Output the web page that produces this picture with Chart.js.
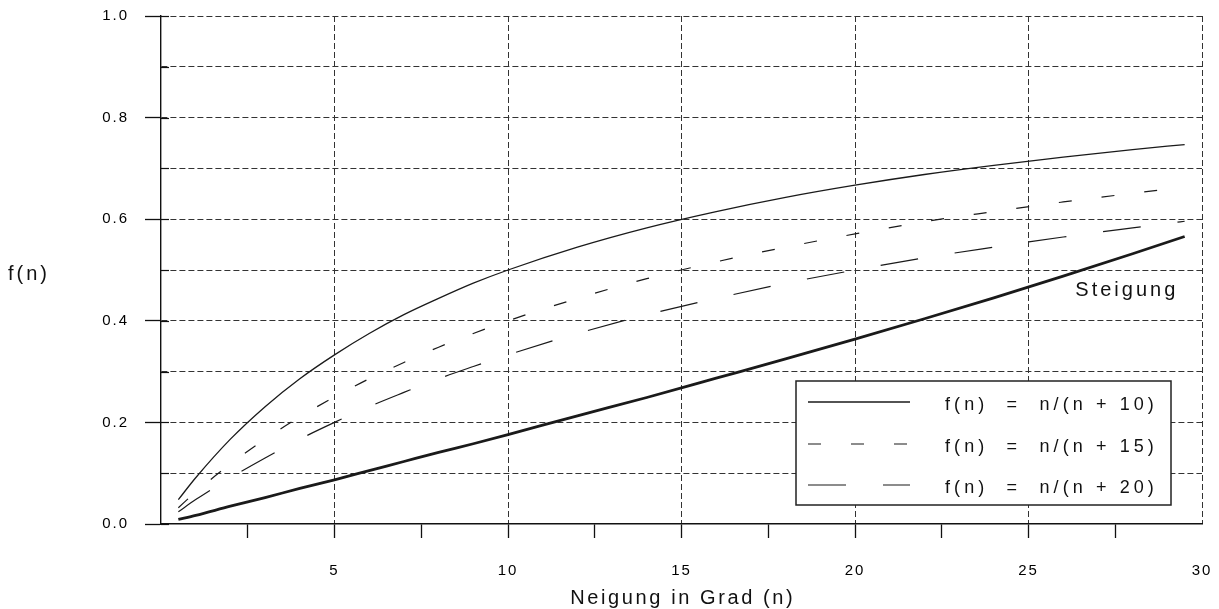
<!DOCTYPE html>
<html><head><meta charset="utf-8">
<script src="https://cdn.jsdelivr.net/npm/chart.js@4"></script>
<style>html,body{margin:0;padding:0;background:#fff}canvas{display:block}</style>
</head><body>
<canvas id="c" width="1219" height="609"></canvas>
<script>
// ---- data ----
const N = [0.5,1,2,3,4,5,6,7,8,9,10,12,14,16,18,20,22,24,26,28,29.5];
const F10 = [0.048,0.091,0.167,0.231,0.286,0.333,0.375,0.412,0.444,0.474,0.500,0.545,0.583,0.615,0.643,0.667,0.688,0.706,0.722,0.737,0.747];
const F15 = [0.032,0.063,0.118,0.167,0.211,0.250,0.286,0.318,0.348,0.375,0.400,0.444,0.483,0.516,0.545,0.571,0.595,0.615,0.634,0.651,0.663];
const F20 = [0.024,0.048,0.091,0.130,0.167,0.200,0.231,0.259,0.286,0.310,0.333,0.375,0.412,0.444,0.474,0.500,0.524,0.545,0.565,0.583,0.596];
const STEIGUNG = [0.009,0.017,0.035,0.052,0.070,0.087,0.105,0.123,0.141,0.158,0.176,0.213,0.249,0.287,0.325,0.364,0.404,0.445,0.488,0.532,0.566];
const SERIES_LABELS = ['f(n)  =  n/(n + 10)','f(n)  =  n/(n + 15)','f(n)  =  n/(n + 20)','Steigung'];
const X_LABELED = [5,10,15,20,25,30];
const Y_LABELED = [0,2,4,6,8,10]; // tenths
const X_TITLE = 'Neigung in Grad (n)';
const Y_TITLE = 'f(n)';
const NOTE = 'Steigung';

const FONT = 'Liberation Sans, Arial, Helvetica, sans-serif';
const pts = arr => N.map((n,i)=>({x:n,y:arr[i]}));

function spacedText(ctx, text, x, y, spacing, align){
  let w = 0; const ws = [];
  for (const ch of text){ const cw = ctx.measureText(ch).width; ws.push(cw); w += cw; }
  w += spacing*(text.length-1);
  let cx = align==='center' ? x - w/2 : (align==='right' ? x - w : x);
  ctx.textAlign='left';
  let i=0;
  for (const ch of text){ ctx.fillText(ch, cx, y); cx += ws[i++] + spacing; }
}

const decor = {
  id:'decor',
  beforeDraw(chart){ chart.ctx.letterSpacing = '2px'; },
  beforeDatasetsDraw(chart){
    const ctx = chart.ctx, ys = chart.scales.y, ca = chart.chartArea;
    ctx.save(); ctx.letterSpacing='0px';
    ctx.strokeStyle='#111'; ctx.lineWidth=1.2; ctx.setLineDash([]);
    ys.ticks.forEach(t=>{
      const py = Math.round(ys.getPixelForValue(t.value))+0.5;
      ctx.beginPath(); ctx.moveTo(ca.left, py); ctx.lineTo(ca.left+8, py); ctx.stroke();
    });
    ctx.restore();
  },
  afterDraw(chart){
    const ctx = chart.ctx, xs = chart.scales.x, ys = chart.scales.y, ca = chart.chartArea;
    ctx.save(); ctx.letterSpacing='0px';
    ctx.fillStyle='#111'; ctx.textBaseline='alphabetic';
    ctx.font = '20px '+FONT;
    spacedText(ctx, Y_TITLE, 8, 280, 3, 'left');
    spacedText(ctx, X_TITLE, (ca.left+ca.right)/2, 604, 2.6, 'center');
    spacedText(ctx, NOTE, xs.getPixelForValue(26.35), ys.getPixelForValue(0.448), 3, 'left');
    // legend box
    const bx = 796, by = 381, bw = 375, bh = 124;
    ctx.fillStyle='#fff'; ctx.fillRect(bx,by,bw,bh);
    ctx.strokeStyle='#222'; ctx.lineWidth=1.5; ctx.setLineDash([]);
    ctx.strokeRect(bx,by,bw,bh);
    const baselines = [410, 452, 493];
    chart.data.datasets.slice(0,3).forEach((ds,i)=>{
      const ly = baselines[i]-8;
      ctx.save();
      ctx.strokeStyle = ds.borderColor; ctx.lineWidth = ds.borderWidth;
      ctx.setLineDash(ds.borderDash||[]);
      ctx.beginPath(); ctx.moveTo(808, ly); ctx.lineTo(910, ly); ctx.stroke();
      ctx.restore();
      ctx.fillStyle='#111'; ctx.font='18px '+FONT;
      spacedText(ctx, ds.label, 945, baselines[i], 4.1, 'left');
    });
    ctx.restore();
  }
};

new Chart(document.getElementById('c'), {
  type:'scatter',
  data:{ datasets:[
    {label:SERIES_LABELS[0], data:pts(F10), borderColor:'#1a1a1a', borderWidth:1.3, borderDash:[]},
    {label:SERIES_LABELS[1], data:pts(F15), borderColor:'#1a1a1a', borderWidth:1.2, borderDash:[13,30]},
    {label:SERIES_LABELS[2], data:pts(F20), borderColor:'#1a1a1a', borderWidth:1.2, borderDash:[38,37]},
    {label:SERIES_LABELS[3], data:pts(STEIGUNG), borderColor:'#1a1a1a', borderWidth:2.8, borderDash:[]}
  ].map(d=>Object.assign(d,{showLine:true, pointRadius:0, fill:false, cubicInterpolationMode:'monotone'}))},
  options:{
    responsive:false, animation:false, devicePixelRatio:1,
    layout:{padding:{left:0, top:16, right:17, bottom:0}},
    plugins:{legend:{display:false}, tooltip:{enabled:false}},
    scales:{
      x:{ type:'linear', min:0, max:30,
        afterFit(s){ s.height = 85; s.paddingLeft = 0; s.paddingRight = 0; },
        ticks:{ stepSize:2.5, autoSkip:false, maxRotation:0, padding:24, color:'#000',
          font:{family:FONT, size:15},
          callback:v=> X_LABELED.includes(v) ? String(v) : '' },
        grid:{ lineWidth:1, tickLength:14, tickWidth:1.3,
          color:c=> (c.tick && c.tick.value%5===0 && c.tick.value>0) ? '#333' : 'rgba(0,0,0,0)',
          tickColor:c=> (c.tick && c.tick.value>0 && c.tick.value<30) ? '#111' : 'rgba(0,0,0,0)',
          tickBorderDash:[] },
        border:{ display:true, color:'#111', width:1.4, dash:[6,3] }
      },
      y:{ type:'linear', min:0, max:1,
        afterFit(s){ s.width = 161; s.paddingTop = 0; s.paddingBottom = 0; },
        ticks:{ stepSize:0.1, autoSkip:false, padding:16, color:'#000',
          font:{family:FONT, size:15},
          callback:v=> Y_LABELED.includes(Math.round(v*10)) ? v.toFixed(1) : '' },
        grid:{ lineWidth:1, tickLength:16, tickWidth:1.3,
          color:c=> (c.tick && Math.round(c.tick.value*10)>0) ? '#333' : 'rgba(0,0,0,0)',
          tickColor:c=> (c.tick && Math.round(c.tick.value*10)%2===0) ? '#111' : 'rgba(0,0,0,0)',
          tickBorderDash:[] },
        border:{ display:true, color:'#111', width:1.4, dash:[6,3] }
      }
    }
  },
  plugins:[decor]
});
</script>
</body></html>
